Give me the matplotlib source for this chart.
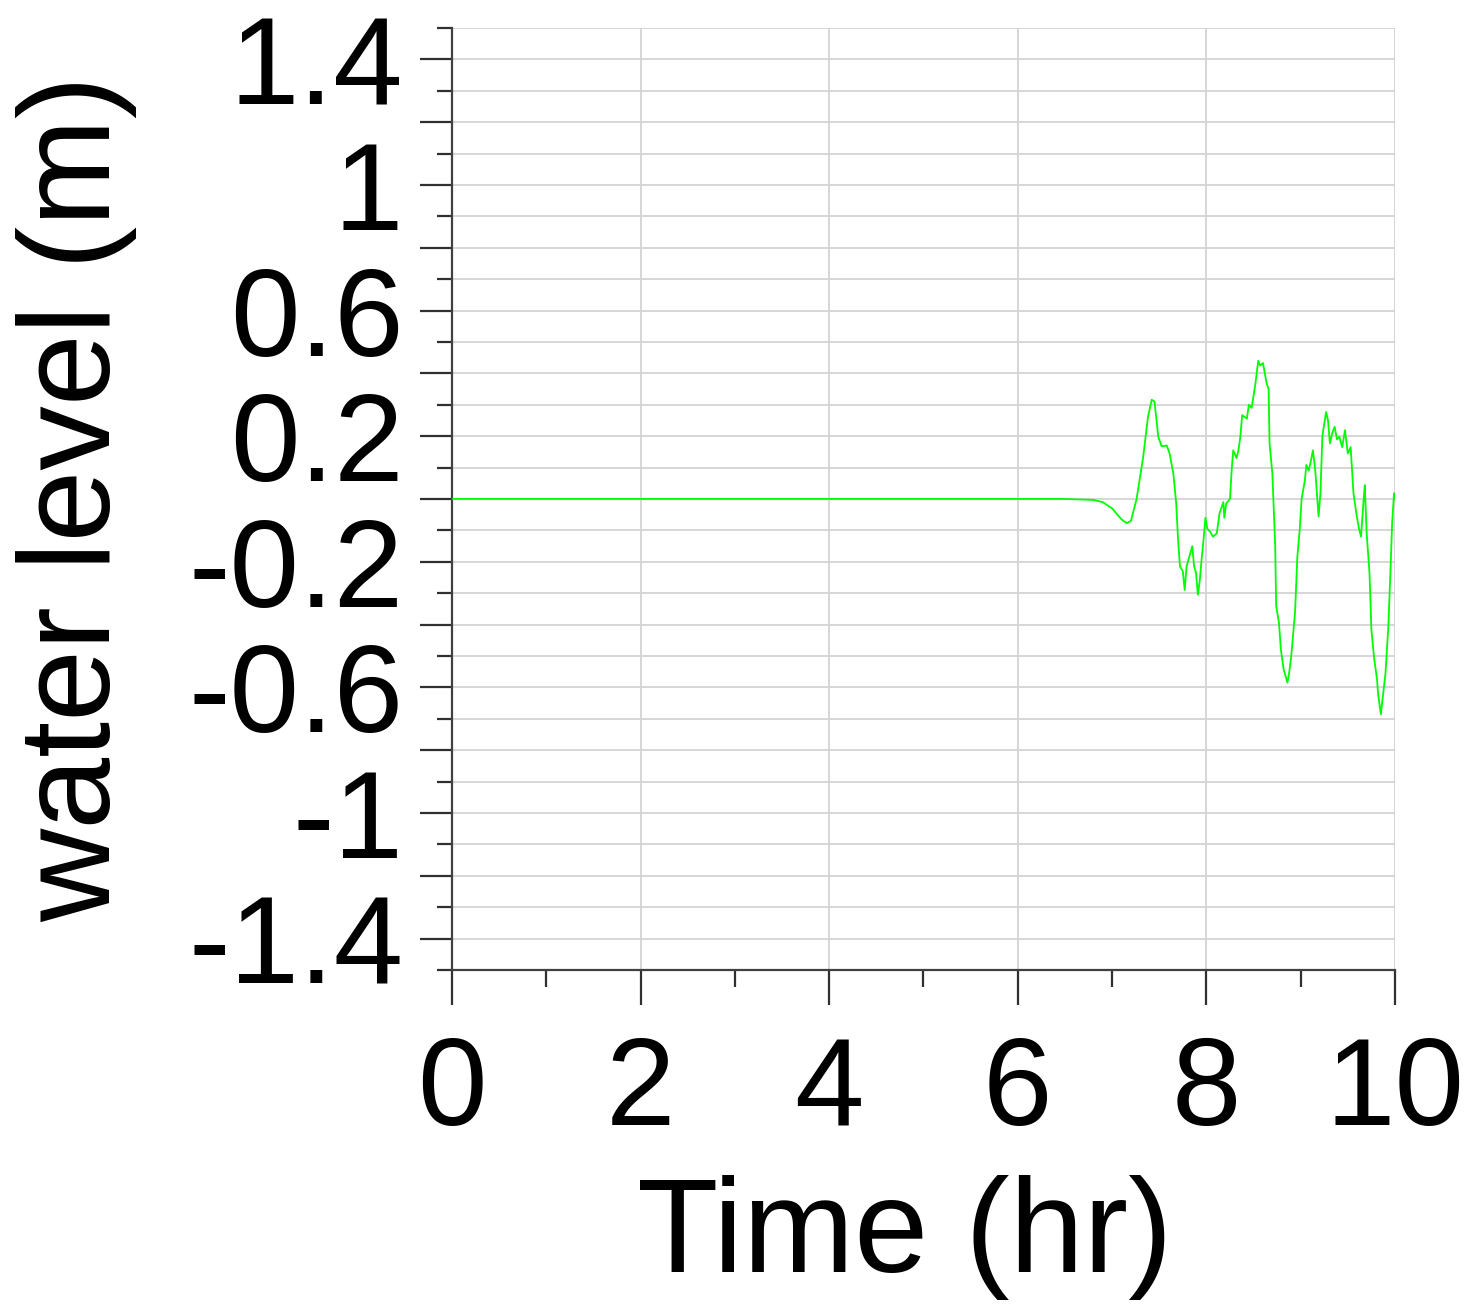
import matplotlib
matplotlib.use("Agg")
import matplotlib.pyplot as plt
from matplotlib.ticker import MultipleLocator, FuncFormatter

plt.rcParams['font.family'] = ['Liberation Sans', 'DejaVu Sans']
plt.rcParams['axes.unicode_minus'] = False

# water level record (time in hr, level in m)
time_hr = [0.0, 6.5, 6.8, 6.9, 7.0, 7.1, 7.155, 7.2, 7.26, 7.33, 7.38, 7.42, 7.45,
           7.49, 7.525, 7.58, 7.61, 7.65, 7.68, 7.70, 7.72, 7.75, 7.77, 7.79, 7.83,
           7.85, 7.87, 7.89, 7.91, 7.93, 7.95, 7.97, 7.99, 8.01, 8.04, 8.07, 8.11,
           8.14, 8.18, 8.19, 8.21, 8.25, 8.27, 8.285, 8.32, 8.34, 8.36, 8.38, 8.43,
           8.45, 8.48, 8.52, 8.55, 8.57, 8.60, 8.64, 8.66, 8.67, 8.70, 8.73, 8.74,
           8.77, 8.79, 8.82, 8.86, 8.88, 8.90, 8.94, 8.965, 8.99, 9.01, 9.045, 9.06,
           9.085, 9.11, 9.13, 9.155, 9.19, 9.21, 9.23, 9.245, 9.27, 9.29, 9.31, 9.335,
           9.36, 9.385, 9.41, 9.44, 9.47, 9.50, 9.53, 9.56, 9.59, 9.615, 9.64, 9.67,
           9.68, 9.70, 9.73, 9.75, 9.78, 9.81, 9.82, 9.85, 9.875, 9.90, 9.93, 9.95,
           9.97, 9.99, 10.0]
level_m = [0.0, 0.0, -0.003, -0.01, -0.03, -0.065, -0.077, -0.07, 0.0, 0.134, 0.26, 0.316, 0.31,
           0.198, 0.168, 0.17, 0.145, 0.08, -0.014, -0.13, -0.215, -0.23, -0.29, -0.215, -0.172,
           -0.15, -0.215, -0.235, -0.305, -0.26, -0.19, -0.13, -0.06, -0.095, -0.104, -0.12, -0.11,
           -0.045, -0.01, -0.06, -0.015, 0.0, 0.10, 0.155, 0.13, 0.155, 0.198, 0.267, 0.256,
           0.30, 0.29, 0.367, 0.44, 0.425, 0.433, 0.367, 0.35, 0.177, 0.08, -0.15, -0.34,
           -0.395, -0.48, -0.543, -0.585, -0.55, -0.50, -0.363, -0.183, -0.098, 0.0, 0.06, 0.108,
           0.09, 0.124, 0.155, 0.09, -0.056, 0.02, 0.198, 0.23, 0.277, 0.25, 0.177, 0.21,
           0.23, 0.19, 0.198, 0.165, 0.219, 0.145, 0.165, 0.018, -0.045, -0.09, -0.12, 0.007,
           0.044, -0.11, -0.236, -0.416, -0.51, -0.575, -0.617, -0.686, -0.62, -0.553, -0.405, -0.247,
           -0.077, 0.018, 0.0]

# labels only on every other major tick
y_labels = [1.4, 1.0, 0.6, 0.2, -0.2, -0.6, -1.0, -1.4]


def y_fmt(v, pos):
    for lv in y_labels:
        if abs(v - lv) < 1e-6:
            return '%g' % lv
    return ''


fig = plt.figure(figsize=(14.69, 13.06), dpi=100)
ax = fig.add_axes([0.3077, 0.2573, 0.6419, 0.7213])

ax.plot(time_hr, level_m, color='#00ff00', lw=1.3, zorder=3)

ax.set_xlim(0, 10)
ax.set_ylim(-1.5, 1.5)
ax.xaxis.set_major_locator(MultipleLocator(2))
ax.xaxis.set_minor_locator(MultipleLocator(1))
ax.yaxis.set_major_locator(MultipleLocator(0.2, offset=0.0))
ax.yaxis.set_minor_locator(MultipleLocator(0.1))
ax.yaxis.set_major_formatter(FuncFormatter(y_fmt))

ax.grid(True, which='major', axis='x', color='#d3d3d3', lw=1.3)
ax.grid(True, which='both', axis='y', color='#d3d3d3', lw=1.3)
ax.set_axisbelow(True)

for s in ['top', 'right']:
    ax.spines[s].set_visible(False)
for s in ['left', 'bottom']:
    ax.spines[s].set_color('#404040')
    ax.spines[s].set_linewidth(1.6)

ax.tick_params(axis='both', which='both', direction='out', color='#303030', width=1.6)
ax.tick_params(axis='x', which='major', length=25, pad=22, labelsize=90)
ax.tick_params(axis='x', which='minor', length=12)
ax.tick_params(axis='y', which='major', length=23, pad=12, labelsize=90)
ax.tick_params(axis='y', which='minor', length=11)

ax.set_xlabel('Time (hr)', fontsize=96)
ax.set_ylabel('water level (m)', fontsize=93)
ax.xaxis.set_label_coords(0.48, -0.218, transform=ax.transAxes)
ax.yaxis.set_label_coords(-0.334, 0.5, transform=ax.transAxes)

fig.savefig('out.png', dpi=100)
